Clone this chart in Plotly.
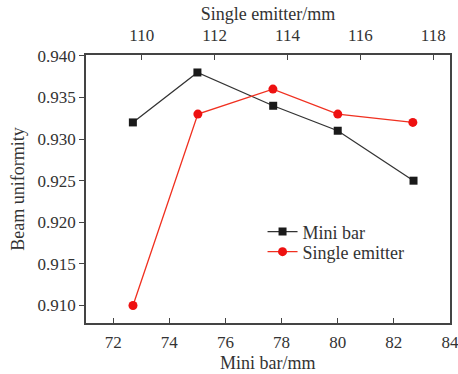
import plotly.graph_objects as go

mini_bar_x = [72.7, 75.0, 77.7, 80.0, 82.7]
mini_bar_y = [0.932, 0.938, 0.934, 0.931, 0.925]
single_x = [109.76, 111.54, 113.6, 115.38, 117.44]
single_y = [0.910, 0.933, 0.936, 0.933, 0.932]

bottom_ticks = [72, 74, 76, 78, 80, 82, 84]
top_ticks = [110, 112, 114, 116, 118]
y_ticks = [0.910, 0.915, 0.920, 0.925, 0.930, 0.935, 0.940]

FONT = "Liberation Serif, Times New Roman, serif"
AX = "#444444"

fig = go.Figure()
fig.add_trace(go.Scatter(
    x=mini_bar_x, y=mini_bar_y, name="Mini bar", mode="lines+markers",
    line=dict(color="#333333", width=1.3),
    marker=dict(symbol="square", size=8, color="#1a1a1a"),
    xaxis="x", yaxis="y", legend="legend"))
fig.add_trace(go.Scatter(
    x=single_x, y=single_y, name="Single emitter", mode="lines+markers",
    line=dict(color="#f03020", width=1.3),
    marker=dict(symbol="circle", size=9, color="#ee1111"),
    xaxis="x2", yaxis="y", legend="legend2"))

leg_common = dict(xanchor="left", yanchor="middle", bgcolor="rgba(0,0,0,0)",
                  font=dict(size=18, family=FONT), itemwidth=30)

fig.update_layout(
    width=458, height=374,
    margin=dict(l=86, r=8, t=55, b=51),
    paper_bgcolor="white", plot_bgcolor="white",
    font=dict(family=FONT, size=17, color="#333333"),
    showlegend=True,
    legend=dict(x=0.485, y=0.34, **leg_common),
    legend2=dict(x=0.485, y=0.265, **leg_common),
    xaxis=dict(
        range=[71.03, 84.0], tickvals=bottom_ticks,
        ticks="inside", ticklen=5, tickcolor=AX, tickwidth=1,
        showline=True, linecolor=AX, linewidth=1.5, mirror=False,
        showgrid=False, zeroline=False, ticklabelstandoff=3,
        automargin=False, ticklabeloverflow="allow",
        tickfont=dict(size=17, family=FONT)),
    xaxis2=dict(
        range=[108.47, 118.46], tickvals=top_ticks,
        overlaying="x", side="top", anchor="y",
        ticks="inside", ticklen=5, tickcolor=AX, tickwidth=1,
        showline=True, linecolor=AX, linewidth=1.5, automargin=False,
        ticklabeloverflow="allow",
        showgrid=False, zeroline=False, ticklabelstandoff=5,
        title=dict(text="Single emitter/mm", font=dict(size=18, family=FONT), standoff=1),
        tickfont=dict(size=17, family=FONT)),
    yaxis=dict(
        range=[0.9079, 0.9401], tickvals=y_ticks, tickformat=".3f",
        ticks="outside", ticklen=5, tickcolor=AX, tickwidth=1,
        showline=True, linecolor=AX, linewidth=1.5, mirror=True, automargin=False,
        showgrid=False, zeroline=False,
        title=dict(text="Beam uniformity", font=dict(size=18, family=FONT), standoff=8),
        tickfont=dict(size=17, family=FONT)),
    annotations=[dict(text="Mini bar/mm", xref="paper", yref="paper",
                      x=0.5, y=-0.149, xanchor="center", yanchor="middle",
                      showarrow=False, font=dict(size=18, family=FONT, color="#333333"))],
)

fig.write_html("out.html")
